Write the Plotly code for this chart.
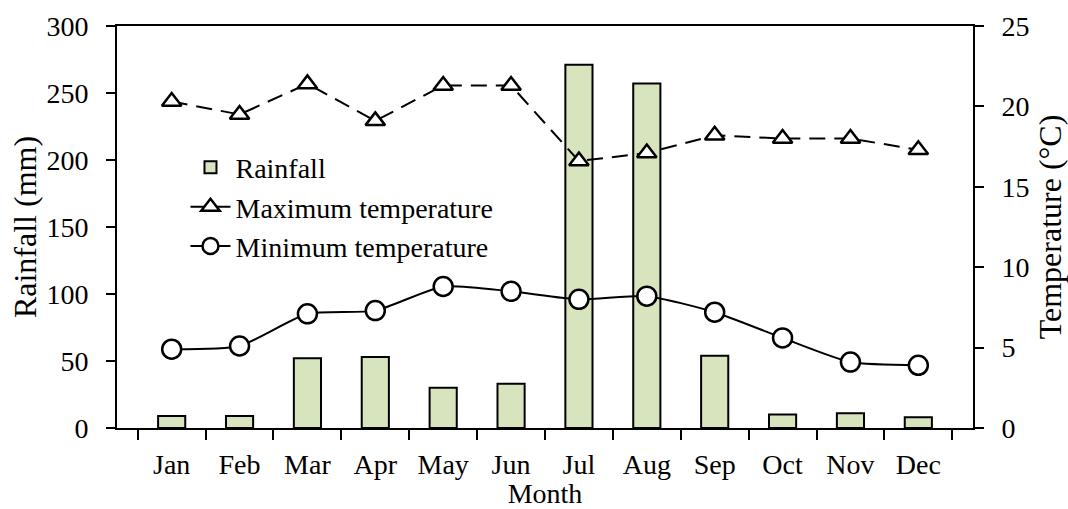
import plotly.graph_objects as go

months = ["Jan", "Feb", "Mar", "Apr", "May", "Jun", "Jul", "Aug", "Sep", "Oct", "Nov", "Dec"]
rainfall = [9, 9, 52, 53, 30, 33, 271, 257, 54, 10, 11, 8]
max_temp = [20.3, 19.5, 21.4, 19.1, 21.3, 21.3, 16.6, 17.1, 18.2, 18.0, 18.0, 17.3]
min_temp = [4.9, 5.1, 7.1, 7.3, 8.8, 8.5, 8.0, 8.2, 7.2, 5.6, 4.1, 3.9]

FONT = "Liberation Serif"

fig = go.Figure()
fig.add_trace(go.Bar(
    x=months, y=rainfall, name="Rainfall", width=0.4,
    marker=dict(color="#d7e4bd", line=dict(color="black", width=2)),
    yaxis="y",
))
fig.add_trace(go.Scatter(
    x=months, y=max_temp, name="Maximum temperature", mode="lines+markers",
    line=dict(color="black", width=2, dash="16px,9px"),
    marker=dict(symbol="triangle-up", size=17, color="white", line=dict(color="black", width=2.5)),
    yaxis="y2",
))
fig.add_trace(go.Scatter(
    x=months, y=min_temp, name="Minimum temperature", mode="lines+markers",
    line=dict(color="black", width=2, shape="spline", smoothing=0.6),
    marker=dict(symbol="circle", size=19, color="white", line=dict(color="black", width=2.5)),
    yaxis="y2",
))

fig.update_layout(
    width=1068, height=509,
    margin=dict(l=117, r=95, t=26, b=81, autoexpand=False),
    paper_bgcolor="white", plot_bgcolor="white",
    font=dict(family=FONT, size=28, color="black"),
    showlegend=True,
    legend=dict(x=0.08, y=0.71, xanchor="left", yanchor="top",
                bgcolor="rgba(0,0,0,0)", font=dict(family=FONT, size=28), tracegroupgap=0,
                itemwidth=40),
    bargap=0.6,
    xaxis=dict(
        title=dict(text="Month", font=dict(family=FONT, size=28), standoff=0),
        showline=True, linecolor="black", linewidth=2, mirror=True,
        ticks="outside", ticklen=10, tickwidth=2, tickcolor="black",
        tickson="boundaries", showgrid=False, automargin=False,
        tickfont=dict(family=FONT, size=28), ticklabelstandoff=10,
    ),
    yaxis=dict(
        title=dict(text="Rainfall (mm)", font=dict(family=FONT, size=32), standoff=0),
        range=[0, 300], dtick=50, automargin=False,
        showline=True, linecolor="black", linewidth=2,
        ticks="outside", ticklen=9, tickwidth=2, tickcolor="black",
        showgrid=False, zeroline=False,
        tickfont=dict(family=FONT, size=28), ticklabelstandoff=12,
    ),
    yaxis2=dict(
        title=dict(text="Temperature (°C)", font=dict(family=FONT, size=32), standoff=12),
        range=[0, 25], dtick=5, overlaying="y", side="right", automargin=False,
        showline=True, linecolor="black", linewidth=2,
        ticks="outside", ticklen=9, tickwidth=2, tickcolor="black",
        showgrid=False, zeroline=False,
        tickfont=dict(family=FONT, size=28), ticklabelstandoff=12,
    ),
)

fig.write_html("out.html", config={"displayModeBar": False},
               post_script="document.body.style.margin='0';document.body.style.overflow='hidden';")
